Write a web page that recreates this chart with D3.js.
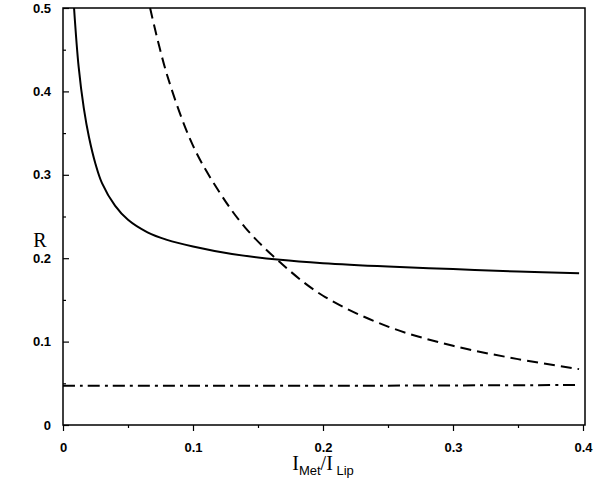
<!DOCTYPE html>
<html><head><meta charset="utf-8">
<script src="https://cdn.jsdelivr.net/npm/d3@7"></script>
<style>body{margin:0;background:#fff}</style>
</head><body>
<div id="chart"></div>
<script>
const xTicks = [0, 0.1, 0.2, 0.3, 0.4];
const yTicks = [0, 0.1, 0.2, 0.3, 0.4, 0.5];

const solidX = [0.0085, 0.012, 0.016, 0.02, 0.025, 0.03, 0.04, 0.05, 0.065, 0.08, 0.1, 0.13, 0.167, 0.2, 0.25, 0.3, 0.35, 0.397];
const solidY = [0.5, 0.43, 0.38, 0.345, 0.313, 0.29, 0.263, 0.246, 0.231, 0.222, 0.214, 0.205, 0.198, 0.194, 0.19, 0.187, 0.184, 0.182];

const dashX = [0.067, 0.08, 0.1, 0.12, 0.14, 0.167, 0.2, 0.25, 0.3, 0.35, 0.397];
const dashY = [0.5, 0.42, 0.335, 0.28, 0.237, 0.195, 0.155, 0.118, 0.095, 0.079, 0.067];

const dotX = [0.0, 0.2, 0.397];
const dotY = [0.047, 0.047, 0.048];

const W = 601, H = 498;
const margin = {top: 8, right: 16, bottom: 73, left: 63};
const width = W - margin.left - margin.right;
const height = H - margin.top - margin.bottom;

const svg = d3.select("#chart").append("svg").attr("width", W).attr("height", H);
const chart = svg.append("g").attr("transform", `translate(${margin.left},${margin.top})`);

const scaleX = d3.scaleLinear().domain([0, 0.4]).range([0, 520]);
const scaleY = d3.scaleLinear().domain([0, 0.5]).range([height, 0]);

const xAxis = chart.append("g").attr("transform", `translate(0,${height})`)
    .call(d3.axisBottom(scaleX).tickValues(xTicks).tickSize(6).tickSizeOuter(0).tickFormat(d => d === 0 ? "0" : d3.format(".1f")(d)));
chart.append("g").attr("transform", `translate(0,${height})`)
    .call(d3.axisBottom(scaleX).tickValues([0.05, 0.15, 0.25, 0.35]).tickSize(3).tickFormat(""));
const yAxis = chart.append("g")
    .call(d3.axisLeft(scaleY).tickValues(yTicks).tickSize(-6).tickSizeOuter(0).tickFormat(d => d === 0 ? "0" : d3.format(".1f")(d)));
chart.append("g")
    .call(d3.axisLeft(scaleY).tickValues([0.05, 0.15, 0.25, 0.35, 0.45]).tickSize(-3).tickFormat(""));

svg.selectAll(".domain").remove();
svg.selectAll(".tick line").attr("stroke", "#000").attr("stroke-width", 1.2);
xAxis.selectAll("text").attr("font-family", "Liberation Sans, Arial").attr("font-weight", "bold").attr("font-size", 13).attr("dy", "1.4em");
yAxis.selectAll("text").attr("font-family", "Liberation Sans, Arial").attr("font-weight", "bold").attr("font-size", 13).attr("x", -12);

const line = d3.line().x(d => scaleX(d[0])).y(d => scaleY(d[1])).curve(d3.curveCatmullRom.alpha(0.5));
function draw(xs, ys, dash) {
    chart.append("path").datum(xs.map((x, i) => [x, ys[i]]))
        .attr("d", line).attr("fill", "none").attr("stroke", "#000")
        .attr("stroke-width", 2).attr("stroke-dasharray", dash);
}
draw(solidX, solidY, null);
draw(dashX, dashY, "11,6");
draw(dotX, dotY, "12,5,3,5");

chart.append("path")
    .attr("d", `M0,0H${width}V${height}H0Z`)
    .attr("fill", "none").attr("stroke", "#000").attr("stroke-width", 1.5);

svg.append("text").attr("x", 40).attr("y", 247).attr("text-anchor", "middle")
    .attr("font-family", "Liberation Serif, Times New Roman").attr("font-size", 20).text("R");

const xl = svg.append("text").attr("x", 323).attr("y", 470).attr("text-anchor", "middle")
    .attr("font-family", "Liberation Serif, Times New Roman").attr("font-size", 20);
xl.append("tspan").text("I");
xl.append("tspan").attr("font-family", "Liberation Sans, Arial").attr("font-size", 13).attr("dy", 5).text("Met");
xl.append("tspan").attr("dy", -5).text("/I");
xl.append("tspan").attr("font-family", "Liberation Sans, Arial").attr("font-size", 13).attr("dy", 5).text(" Lip");
</script>
</body></html>
